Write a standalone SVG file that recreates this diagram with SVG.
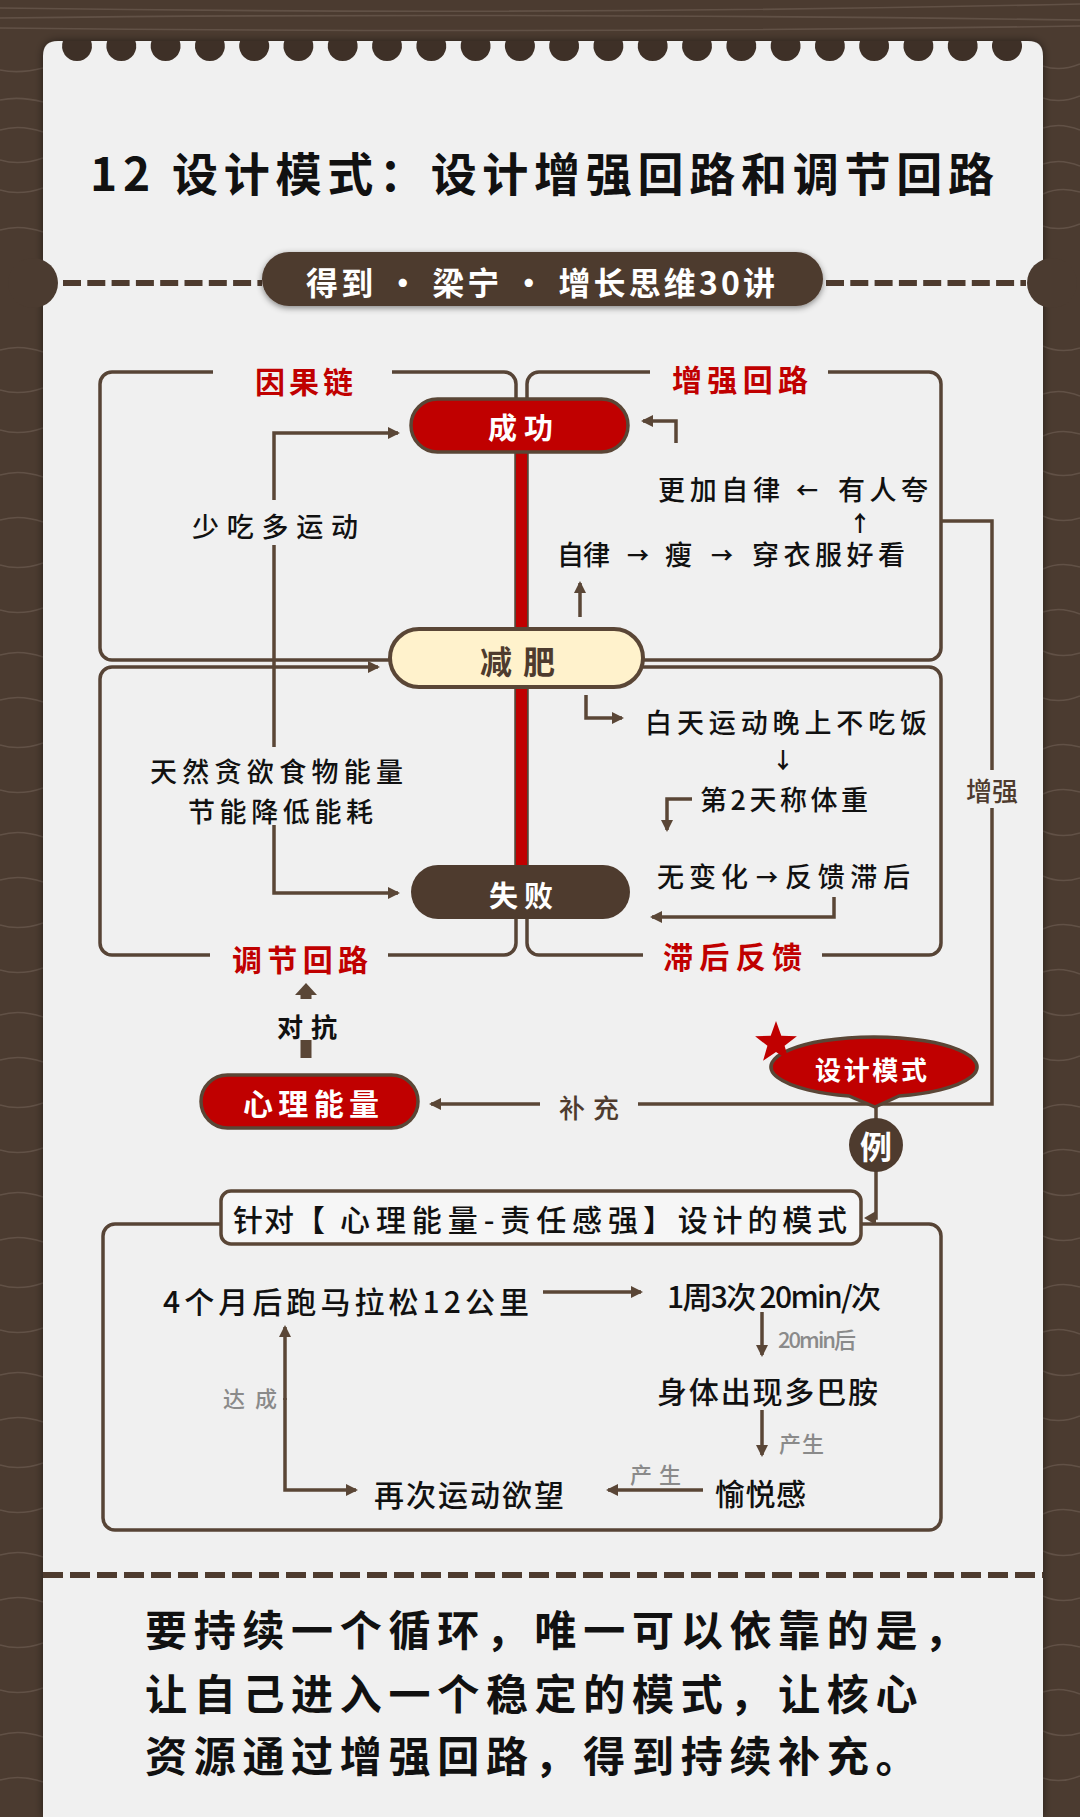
<svg xmlns="http://www.w3.org/2000/svg" width="1080" height="1817" viewBox="0 0 1080 1817">
<defs>
<style>
.t{font-family:'Noto Sans CJK SC','Noto Sans',sans-serif;dominant-baseline:central;}
.ln{fill:none;stroke:#5a4636;stroke-width:3.5;}
.box{fill:none;stroke:#574436;stroke-width:3.5;}
.lbl{font-size:30px;font-weight:700;fill:#c00000;}
.body{font-size:27px;font-weight:500;fill:#111;}
.big{font-size:30px;font-weight:500;fill:#111;}
.gray{font-size:22px;font-weight:500;fill:#8a8a8a;}
.wh{font-weight:700;fill:#fff;}
.arw{font-size:22px;font-weight:700;fill:#111;}
.grain{fill:none;stroke:#75645a;stroke-width:1.6;opacity:.55;}
</style>
<marker id="ah" viewBox="0 0 12 12" refX="10" refY="6" markerWidth="12" markerHeight="12" markerUnits="userSpaceOnUse" orient="auto"><path d="M0,0 L12,6 L0,12 z" fill="#5a4636"/></marker>
<filter id="sh" x="-10%" y="-30%" width="120%" height="160%"><feDropShadow dx="0" dy="2" stdDeviation="3" flood-color="#000" flood-opacity="0.45"/></filter>
<filter id="psh" x="-5%" y="-5%" width="110%" height="110%"><feDropShadow dx="0" dy="0" stdDeviation="4" flood-color="#000" flood-opacity="0.5"/></filter>
</defs>

<!-- wood background -->
<rect width="1080" height="1817" fill="#4b3b30"/>
<g id="wood">
<path class="grain" d="M0,8 Q540,16 1080,4"/>
<path class="grain" d="M0,18 Q500,12 1080,20"/>
<path class="grain" d="M0,28 Q560,34 1080,26"/>
<path class="grain" d="M0,70 Q20,74 43,68 M1043,66 Q1060,72 1080,64"/>
<path class="grain" d="M0,100 Q20,96 43,102 M1043,98 Q1060,104 1080,96"/>
<path class="grain" d="M0,130 Q20,124 43,132 M1043,128 Q1060,122 1080,130"/>
<path class="grain" d="M0,160 Q20,166 43,158 M1043,164 Q1060,158 1080,166"/>
<path class="grain" d="M0,190 Q20,196 43,188 M1043,194 Q1060,186 1080,192"/>
<path class="grain" d="M0,230 Q20,224 43,232 M1043,226 Q1060,232 1080,224"/>
<path class="grain" d="M0,350 Q20,344 43,352 M1043,346 Q1060,354 1080,348"/>
<path class="grain" d="M0,390 Q20,396 43,388 M1043,394 Q1060,388 1080,396"/>
<path class="grain" d="M0,430 Q20,436 43,428 M1043,436 Q1060,428 1080,434"/>
<path class="grain" d="M0,475 Q20,469 43,477 M1043,471 Q1060,479 1080,473"/>
<path class="grain" d="M0,520 Q20,514 43,522 M1043,516 Q1060,524 1080,518"/>
<path class="grain" d="M0,565 Q20,571 43,563 M1043,569 Q1060,561 1080,567"/>
<path class="grain" d="M0,610 Q20,616 43,608 M1043,612 Q1060,606 1080,614"/>
<path class="grain" d="M0,655 Q20,649 43,657 M1043,651 Q1060,659 1080,653"/>
<path class="grain" d="M0,700 Q20,694 43,702 M1043,698 Q1060,704 1080,696"/>
<path class="grain" d="M0,745 Q20,751 43,743 M1043,749 Q1060,741 1080,747"/>
<path class="grain" d="M0,790 Q20,796 43,788 M1043,794 Q1060,786 1080,792"/>
<path class="grain" d="M0,835 Q20,829 43,837 M1043,831 Q1060,839 1080,833"/>
<path class="grain" d="M0,880 Q20,874 43,882 M1043,876 Q1060,884 1080,878"/>
<path class="grain" d="M0,925 Q20,931 43,923 M1043,929 Q1060,921 1080,927"/>
<path class="grain" d="M0,970 Q20,976 43,968 M1043,972 Q1060,966 1080,974"/>
<path class="grain" d="M0,1015 Q20,1009 43,1017 M1043,1011 Q1060,1019 1080,1013"/>
<path class="grain" d="M0,1060 Q20,1054 43,1062 M1043,1058 Q1060,1064 1080,1056"/>
<path class="grain" d="M0,1105 Q20,1111 43,1103 M1043,1109 Q1060,1101 1080,1107"/>
<path class="grain" d="M0,1150 Q20,1156 43,1148 M1043,1154 Q1060,1146 1080,1152"/>
<path class="grain" d="M0,1195 Q20,1189 43,1197 M1043,1191 Q1060,1199 1080,1193"/>
<path class="grain" d="M0,1240 Q20,1234 43,1242 M1043,1236 Q1060,1244 1080,1238"/>
<path class="grain" d="M0,1285 Q20,1291 43,1283 M1043,1289 Q1060,1281 1080,1287"/>
<path class="grain" d="M0,1330 Q20,1336 43,1328 M1043,1332 Q1060,1326 1080,1334"/>
<path class="grain" d="M0,1375 Q20,1369 43,1377 M1043,1371 Q1060,1379 1080,1373"/>
<path class="grain" d="M0,1420 Q20,1414 43,1422 M1043,1418 Q1060,1424 1080,1416"/>
<path class="grain" d="M0,1465 Q20,1471 43,1463 M1043,1469 Q1060,1461 1080,1467"/>
<path class="grain" d="M0,1510 Q20,1516 43,1508 M1043,1514 Q1060,1506 1080,1512"/>
<path class="grain" d="M0,1555 Q20,1549 43,1557 M1043,1551 Q1060,1559 1080,1553"/>
<path class="grain" d="M0,1600 Q20,1594 43,1602 M1043,1596 Q1060,1604 1080,1598"/>
<path class="grain" d="M0,1645 Q20,1651 43,1643 M1043,1649 Q1060,1641 1080,1647"/>
<path class="grain" d="M0,1690 Q20,1696 43,1688 M1043,1692 Q1060,1686 1080,1694"/>
<path class="grain" d="M0,1735 Q20,1729 43,1737 M1043,1731 Q1060,1739 1080,1733"/>
<path class="grain" d="M0,1780 Q20,1774 43,1782 M1043,1778 Q1060,1784 1080,1776"/>
</g>

<!-- paper -->
<g id="paper">
<path d="M43,56 Q43,41 58,41 H1028 Q1043,41 1043,56 V1817 H43 Z" fill="#f0f0f0" filter="url(#psh)"/>
<g fill="#3e3027">
<path d="M62.9,41 A15,15 0 1 0 91.1,41 Z"/><path d="M107.2,41 A15,15 0 1 0 135.4,41 Z"/><path d="M151.5,41 A15,15 0 1 0 179.7,41 Z"/><path d="M195.8,41 A15,15 0 1 0 224,41 Z"/><path d="M240.1,41 A15,15 0 1 0 268.3,41 Z"/><path d="M284.3,41 A15,15 0 1 0 312.5,41 Z"/><path d="M328.6,41 A15,15 0 1 0 356.8,41 Z"/><path d="M372.9,41 A15,15 0 1 0 401.1,41 Z"/><path d="M417.2,41 A15,15 0 1 0 445.4,41 Z"/><path d="M461.5,41 A15,15 0 1 0 489.7,41 Z"/><path d="M505.8,41 A15,15 0 1 0 534,41 Z"/><path d="M550,41 A15,15 0 1 0 578.2,41 Z"/><path d="M594.3,41 A15,15 0 1 0 622.5,41 Z"/><path d="M638.6,41 A15,15 0 1 0 666.8,41 Z"/><path d="M682.9,41 A15,15 0 1 0 711.1,41 Z"/><path d="M727.2,41 A15,15 0 1 0 755.4,41 Z"/><path d="M771.5,41 A15,15 0 1 0 799.7,41 Z"/><path d="M815.8,41 A15,15 0 1 0 844,41 Z"/><path d="M860,41 A15,15 0 1 0 888.2,41 Z"/><path d="M904.3,41 A15,15 0 1 0 932.5,41 Z"/><path d="M948.6,41 A15,15 0 1 0 976.8,41 Z"/><path d="M992.9,41 A15,15 0 1 0 1021.1,41 Z"/>
</g>
<circle cx="33" cy="283" r="25" fill="#4b3b30"/>
<circle cx="1052" cy="283" r="25" fill="#4b3b30"/>
<line x1="63" y1="283" x2="262" y2="283" stroke="#4e3b2e" stroke-width="6" stroke-dasharray="18 6.3"/>
<line x1="826" y1="283" x2="1026" y2="283" stroke="#4e3b2e" stroke-width="6" stroke-dasharray="18 6.3"/>
<line x1="43" y1="1575" x2="1043" y2="1575" stroke="#4e3b2e" stroke-width="6" stroke-dasharray="20 7"/>
</g>

<!-- title -->
<g id="title">
<text class="t" x="90" y="171" font-size="46" font-weight="700" fill="#111" textLength="904" lengthAdjust="spacing">12 设计模式：设计增强回路和调节回路</text>
</g>
<g id="banner">
<rect x="262" y="252" width="561" height="54" rx="27" fill="#4e3b2e" filter="url(#sh)"/>
<text class="t" x="306" y="281" font-size="32" font-weight="700" fill="#fff" textLength="469" lengthAdjust="spacing">得到 · 梁宁 · 增长思维30讲</text>
</g>

<!-- frames -->
<g id="frames">
<path class="box" d="M213,372 H112 A12,12 0 0 0 100,384 V648 A12,12 0 0 0 112,660 H516 V384 A12,12 0 0 0 504,372 H392"/>
<text class="t lbl" x="255" y="380" textLength="98" lengthAdjust="spacing">因果链</text>
<path class="box" d="M650,372 H539 A12,12 0 0 0 527,384 V660 H929 A12,12 0 0 0 941,648 V384 A12,12 0 0 0 929,372 H828"/>
<text class="t lbl" x="672" y="378" textLength="136" lengthAdjust="spacing">增强回路</text>
<path class="box" d="M210,955 H112 A12,12 0 0 1 100,943 V679 A12,12 0 0 1 112,667 H378" marker-end="url(#ah)"/>
<path class="box" d="M388,955 H504 A12,12 0 0 0 516,943 V667"/>
<text class="t lbl" x="232" y="958" textLength="136" lengthAdjust="spacing">调节回路</text>
<path class="box" d="M643,955 H539 A12,12 0 0 1 527,943 V667 H929 A12,12 0 0 1 941,679 V943 A12,12 0 0 1 929,955 H822"/>
<text class="t lbl" x="663" y="955" textLength="139" lengthAdjust="spacing">滞后反馈</text>
<path class="box" d="M115,1224 H929 A12,12 0 0 1 941,1236 V1518 A12,12 0 0 1 929,1530 H115 A12,12 0 0 1 103,1518 V1236 A12,12 0 0 1 115,1224 Z"/>
</g>

<!-- connectors -->
<g id="connectors">
<rect x="516" y="440" width="11" height="440" fill="#c00000"/>
<path class="ln" d="M274,500 V433 H398" marker-end="url(#ah)"/>
<path class="ln" d="M274,545 V747"/>
<path class="ln" d="M274,825 V893 H398" marker-end="url(#ah)"/>
<path class="ln" d="M580,617 V583" marker-end="url(#ah)"/>
<path class="ln" d="M676,443 V421 H643" marker-end="url(#ah)"/>
<path class="ln" d="M586,695 V718 H622" marker-end="url(#ah)"/>
<path class="ln" d="M692,799 H667 V830" marker-end="url(#ah)"/>
<path class="ln" d="M834,897 V917 H652" marker-end="url(#ah)"/>
<path class="ln" d="M941,521 H992 V770"/>
<path class="ln" d="M992,808 V1104 H638"/>
<path class="ln" d="M540,1104 H431" marker-end="url(#ah)"/>
<path d="M295,995 L306,983 L317,995 Z" fill="#5a4636"/>
<rect x="300.5" y="994" width="11" height="5" fill="#5a4636"/>
<rect x="300.5" y="1040" width="11" height="18" fill="#5a4636"/>
<path class="ln" d="M876,1104 V1120"/>
<path class="ln" d="M876,1170 V1218 H872"/>
<path d="M876,1211 L864,1218 L876,1225 Z" fill="#5a4636"/>
<path class="ln" d="M543,1292 H641" marker-end="url(#ah)"/>
<path class="ln" d="M762,1312 V1355" marker-end="url(#ah)"/>
<path class="ln" d="M762,1410 V1455" marker-end="url(#ah)"/>
<path class="ln" d="M703,1490 H608" marker-end="url(#ah)"/>
<path class="ln" d="M285,1400 V1327" marker-end="url(#ah)"/>
<path class="ln" d="M285,1398 V1490 H356" marker-end="url(#ah)"/>
<text class="t" x="992" y="789" font-size="26" font-weight="500" fill="#4e3b2e" text-anchor="middle">增强</text>
<text class="t" x="559" y="1106" font-size="26" font-weight="500" fill="#4e3b2e" textLength="60" lengthAdjust="spacing">补充</text>
<text class="t" x="277" y="1025" font-size="26" font-weight="700" fill="#111" textLength="60" lengthAdjust="spacing">对抗</text>
</g>

<!-- cause chain labels -->
<g id="n-shaoChi"><text class="t body" x="192" y="525" textLength="166" lengthAdjust="spacing">少吃多运动</text></g>
<g id="n-tianRan">
<text class="t body" x="150" y="770" textLength="253" lengthAdjust="spacing">天然贪欲食物能量</text>
<text class="t body" x="188" y="810" textLength="185" lengthAdjust="spacing">节能降低能耗</text>
</g>

<!-- reinforcing loop texts -->
<g id="n-ziLv">
<text class="t body" x="557" y="553" textLength="53" lengthAdjust="spacing">自律</text>
<text class="t arw" x="638" y="553" text-anchor="middle">→</text>
<text class="t body" x="665" y="553" textLength="30" lengthAdjust="spacing">瘦</text>
<text class="t arw" x="722" y="553" text-anchor="middle">→</text>
<text class="t body" x="752" y="553" textLength="153" lengthAdjust="spacing">穿衣服好看</text>
<text class="t arw" x="860" y="521" text-anchor="middle">↑</text>
<text class="t body" x="658" y="488" textLength="122" lengthAdjust="spacing">更加自律</text>
<text class="t arw" x="807" y="488" text-anchor="middle">←</text>
<text class="t body" x="838" y="488" textLength="90" lengthAdjust="spacing">有人夸</text>
</g>

<!-- delayed feedback texts -->
<g id="n-baiTian">
<text class="t body" x="645" y="721" textLength="282" lengthAdjust="spacing">白天运动晚上不吃饭</text>
<text class="t arw" x="783" y="758" text-anchor="middle">↓</text>
<text class="t body" x="700" y="798" textLength="168" lengthAdjust="spacing">第2天称体重</text>
<text class="t body" x="657" y="875" textLength="91" lengthAdjust="spacing">无变化</text>
<text class="t arw" x="767" y="875" text-anchor="middle">→</text>
<text class="t body" x="785" y="875" textLength="125" lengthAdjust="spacing">反馈滞后</text>
</g>

<!-- main nodes -->
<g id="n-chengGong">
<rect x="411" y="399" width="217" height="53" rx="26.5" fill="#c00000" stroke="#5a4636" stroke-width="3.5"/>
<text class="t wh" x="488" y="426" font-size="29" textLength="65" lengthAdjust="spacing">成功</text>
</g>
<g id="n-jianFei">
<rect x="390" y="629" width="253" height="58" rx="29" fill="#fff2cc" stroke="#5a4636" stroke-width="4"/>
<text class="t" x="480" y="660" font-size="32" font-weight="700" fill="#4e3b2e" textLength="75" lengthAdjust="spacing">减肥</text>
</g>
<g id="n-shiBai">
<rect x="411" y="865" width="219" height="54" rx="27" fill="#4e3b2e"/>
<text class="t wh" x="489" y="894" font-size="29" textLength="64" lengthAdjust="spacing">失败</text>
</g>
<g id="n-xinLi">
<rect x="201" y="1075" width="217" height="53" rx="26.5" fill="#c00000" stroke="#5a4636" stroke-width="3.5"/>
<text class="t wh" x="243" y="1102" font-size="30" textLength="136" lengthAdjust="spacing">心理能量</text>
</g>
<g id="n-sheJi">
<path d="M849,1096 A103,30 0 1 1 899,1096 L875,1107 Z" fill="#c00000" stroke="#5a4636" stroke-width="3.5" stroke-linejoin="round"/>
<text class="t wh" x="815" y="1068" font-size="26" textLength="112" lengthAdjust="spacing">设计模式</text>
<path d="M776,1021 L781.3,1035.7 L796.9,1036.2 L784.6,1045.8 L788.9,1060.8 L776,1052 L763.1,1060.8 L767.4,1045.8 L755.1,1036.2 L770.7,1035.7 Z" fill="#c00000"/>
</g>
<g id="n-li">
<circle cx="876" cy="1145" r="27" fill="#4e3b2e"/>
<text class="t wh" x="876" y="1145" font-size="32" text-anchor="middle">例</text>
</g>

<!-- example section -->
<g id="n-zhenDui">
<rect x="221" y="1191" width="640" height="53" rx="10" fill="#f6f6f6" stroke="#5a4636" stroke-width="3.5"/>
<text class="t big" x="233" y="1218" font-weight="700" textLength="92" lengthAdjust="spacing">针对【</text>
<text class="t big" x="340" y="1218" font-weight="700" fill="#c00000" textLength="298" lengthAdjust="spacing">心理能量-责任感强</text>
<text class="t big" x="643" y="1218" font-weight="700" textLength="204" lengthAdjust="spacing">】设计的模式</text>
</g>
<g id="n-goal"><text class="t big" x="163" y="1300" fill="#c00000" textLength="366" lengthAdjust="spacing">4个月后跑马拉松12公里</text></g>
<g id="n-week"><text class="t big" x="667" y="1295" textLength="214" lengthAdjust="spacing">1周3次 20min/次</text></g>
<g id="n-body"><text class="t big" x="657" y="1390" textLength="221" lengthAdjust="spacing">身体出现多巴胺</text></g>
<g id="n-joy"><text class="t big" x="715" y="1492" textLength="91" lengthAdjust="spacing">愉悦感</text></g>
<g id="n-again"><text class="t big" x="374" y="1493" textLength="190" lengthAdjust="spacing">再次运动欲望</text></g>
<g id="edge-labels">
<text class="t gray" x="778" y="1338" textLength="78" lengthAdjust="spacing">20min后</text>
<text class="t gray" x="779" y="1442" textLength="45" lengthAdjust="spacing">产生</text>
<text class="t gray" x="630" y="1473" font-size="24" textLength="51" lengthAdjust="spacing">产生</text>
<text class="t gray" x="223" y="1397" font-size="24" textLength="54" lengthAdjust="spacing">达成</text>
</g>

<!-- conclusion -->
<g id="conclusion" class="t" font-size="42" font-weight="700" fill="#111">
<text x="145" y="1627" letter-spacing="6.7">要持续一个循环，唯一可以依靠的是，</text>
<text x="145" y="1691" letter-spacing="6.7">让自己进入一个稳定的模式，让核心</text>
<text x="145" y="1753" letter-spacing="6.7">资源通过增强回路，得到持续补充。</text>
</g>
</svg>
